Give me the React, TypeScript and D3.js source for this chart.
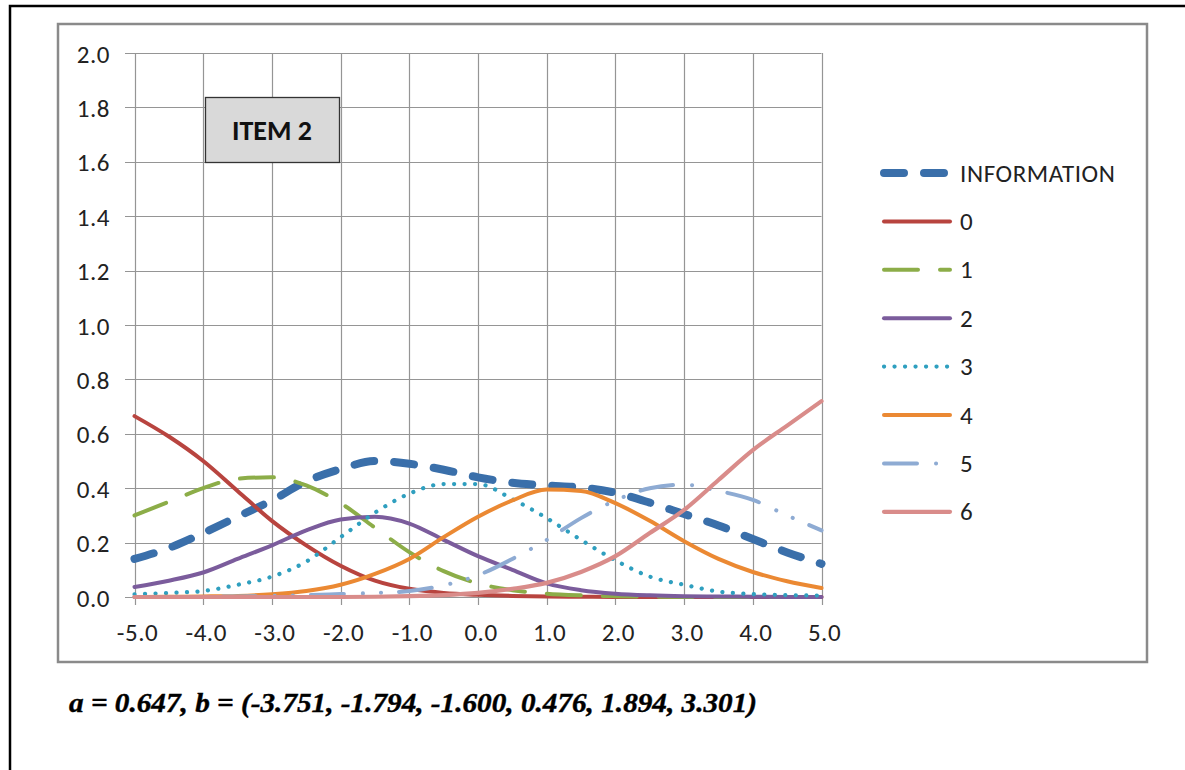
import React from "react";
import * as d3 from "d3";

const theta = [-5, -4.5, -4, -3.5, -3, -2.5, -2, -1.5, -1, -0.5, 0, 0.5, 1, 1.5, 2, 2.5, 3, 3.5, 4, 4.5, 5];
const information = [0.14, 0.18, 0.235, 0.295, 0.355, 0.425, 0.47, 0.5, 0.49, 0.468, 0.44, 0.42, 0.41, 0.403, 0.383, 0.347, 0.305, 0.263, 0.213, 0.164, 0.122];
const cat0 = [0.665, 0.59, 0.5, 0.39, 0.28, 0.19, 0.115, 0.06, 0.03, 0.015, 0.008, 0.004, 0.002, 0.001, 0, 0, 0, 0, 0, 0, 0];
const cat1 = [0.3, 0.35, 0.4, 0.435, 0.44, 0.41, 0.345, 0.255, 0.165, 0.095, 0.05, 0.025, 0.012, 0.006, 0.003, 0.001, 0, 0, 0, 0, 0];
const cat2 = [0.037, 0.06, 0.09, 0.14, 0.19, 0.245, 0.285, 0.295, 0.27, 0.21, 0.15, 0.1, 0.05, 0.025, 0.012, 0.006, 0.003, 0.002, 0.001, 0, 0];
const cat3 = [0.01, 0.015, 0.022, 0.045, 0.075, 0.13, 0.22, 0.31, 0.38, 0.415, 0.415, 0.36, 0.29, 0.21, 0.135, 0.075, 0.045, 0.02, 0.011, 0.007, 0.005];
const cat4 = [0, 0.001, 0.002, 0.004, 0.01, 0.022, 0.045, 0.085, 0.14, 0.22, 0.295, 0.355, 0.395, 0.39, 0.345, 0.28, 0.205, 0.14, 0.092, 0.058, 0.033];
const cat5 = [0, 0, 0.001, 0.002, 0.004, 0.007, 0.011, 0.015, 0.022, 0.043, 0.08, 0.14, 0.21, 0.29, 0.355, 0.4, 0.413, 0.39, 0.357, 0.3, 0.245];
const cat6 = [0, 0, 0, 0, 0, 0, 0, 0.001, 0.003, 0.007, 0.015, 0.03, 0.052, 0.092, 0.15, 0.235, 0.32, 0.43, 0.54, 0.63, 0.72];

const xTicks = [-5, -4, -3, -2, -1, 0, 1, 2, 3, 4, 5];
const yTicks = [0, 0.2, 0.4, 0.6, 0.8, 1.0, 1.2, 1.4, 1.6, 1.8, 2.0];
const seriesNames = ["INFORMATION", "0", "1", "2", "3", "4", "5", "6"];
const title = "ITEM 2";
const caption = "a = 0.647, b = (-3.751, -1.794, -1.600, 0.476, 1.894, 3.301)";

const seriesValues = [information, cat0, cat1, cat2, cat3, cat4, cat5, cat6];
const styles = [
  { color: "#3a6faa", width: 8, dash: "20 20" },
  { color: "#b8443f", width: 4, dash: null },
  { color: "#8cad48", width: 4, dash: "34 22" },
  { color: "#7b5c9c", width: 4, dash: null },
  { color: "#2f9fbf", width: 4.2, dash: "0.1 10.4" },
  { color: "#eb8933", width: 4, dash: null },
  { color: "#8eabd3", width: 4, dash: "33 19 0.1 18 0.1 18" },
  { color: "#d98c8a", width: 4.2, dash: null },
];

const FONT = "Carlito, Calibri, Lato, sans-serif";
const FS = 25;

export default function App() {
  const x = d3.scaleLinear().domain([-5, 5]).range([134.5, 821.5]);
  const y = d3.scaleLinear().domain([0, 2]).range([597, 53]);
  const line = d3
    .line<number>()
    .x((_, i) => x(theta[i]))
    .y((d) => y(d))
    .curve(d3.curveMonotoneX);

  const legendY0 = 173;
  const legendStep = 48.4;

  return (
    <svg
      width={1185}
      height={770}
      style={{ position: "fixed", left: 0, top: 0, background: "#fff" }}
    >
      <rect x={0} y={0} width={1185} height={770} fill="#fff" />
      {/* outer document frame */}
      <path d="M10,770 V6 H1185" fill="none" stroke="#000" strokeWidth={2.5} />
      {/* chart frame */}
      <rect x={58} y={24} width={1089} height={638} fill="#fff" stroke="#8a8a8a" strokeWidth={2.5} />

      {/* gridlines */}
      {yTicks.map((t) => (
        <line
          key={"h" + t}
          x1={125}
          x2={821.5}
          y1={Math.round(y(t)) + 0.5}
          y2={Math.round(y(t)) + 0.5}
          stroke="#959595"
          strokeWidth={1.2}
        />
      ))}
      {xTicks.map((t) => (
        <line
          key={"v" + t}
          x1={Math.round(x(t)) + 0.5}
          x2={Math.round(x(t)) + 0.5}
          y1={53}
          y2={605}
          stroke="#959595"
          strokeWidth={1.2}
        />
      ))}

      {/* y tick labels */}
      {yTicks.map((t) => (
        <text
          key={"yl" + t}
          x={110}
          y={y(t) + 1}
          textAnchor="end"
          dominantBaseline="central"
          fontFamily={FONT}
          fontSize={FS}
          letterSpacing={0.5}
          fill="#222"
        >
          {t.toFixed(1)}
        </text>
      ))}
      {/* x tick labels */}
      {xTicks.map((t) => (
        <text
          key={"xl" + t}
          x={x(t) + 3}
          y={632}
          textAnchor="middle"
          dominantBaseline="central"
          fontFamily={FONT}
          fontSize={FS}
          letterSpacing={0.5}
          fill="#222"
        >
          {t.toFixed(1)}
        </text>
      ))}

      {/* series */}
      {seriesValues.map((vals, i) => (
        <path
          key={"s" + i}
          d={line(vals) || ""}
          fill="none"
          stroke={styles[i].color}
          strokeWidth={styles[i].width}
          strokeDasharray={styles[i].dash || undefined}
          strokeLinecap="round"
          strokeLinejoin="round"
        />
      ))}

      {/* title box */}
      <rect x={205.5} y={97.5} width={134} height={65} fill="#d9d9d9" stroke="#333" strokeWidth={1.3} />
      <text
        x={272}
        y={130}
        textAnchor="middle"
        dominantBaseline="central"
        fontFamily={FONT}
        fontWeight="bold"
        fontSize={28}
        fill="#111"
      >
        {title}
      </text>

      {/* legend */}
      {seriesNames.map((name, i) => {
        const ly = legendY0 + i * legendStep;
        return (
          <g key={"lg" + i}>
            <line
              x1={884}
              x2={950}
              y1={ly}
              y2={ly}
              stroke={styles[i].color}
              strokeWidth={styles[i].width}
              strokeDasharray={styles[i].dash || undefined}
              strokeLinecap="round"
            />
            <text
              x={960}
              y={ly}
              dominantBaseline="central"
              fontFamily={FONT}
              fontSize={FS}
              letterSpacing={0.6}
              fill="#222"
            >
              {name}
            </text>
          </g>
        );
      })}

      {/* caption */}
      <text
        x={69}
        y={712}
        fontFamily="'Liberation Serif', 'Times New Roman', serif"
        fontWeight="bold"
        fontStyle="italic"
        fontSize={27}
        textLength={688}
        lengthAdjust="spacingAndGlyphs"
        fill="#000"
        stroke="#000"
        strokeWidth={0.4}
      >
        {caption}
      </text>
    </svg>
  );
}
